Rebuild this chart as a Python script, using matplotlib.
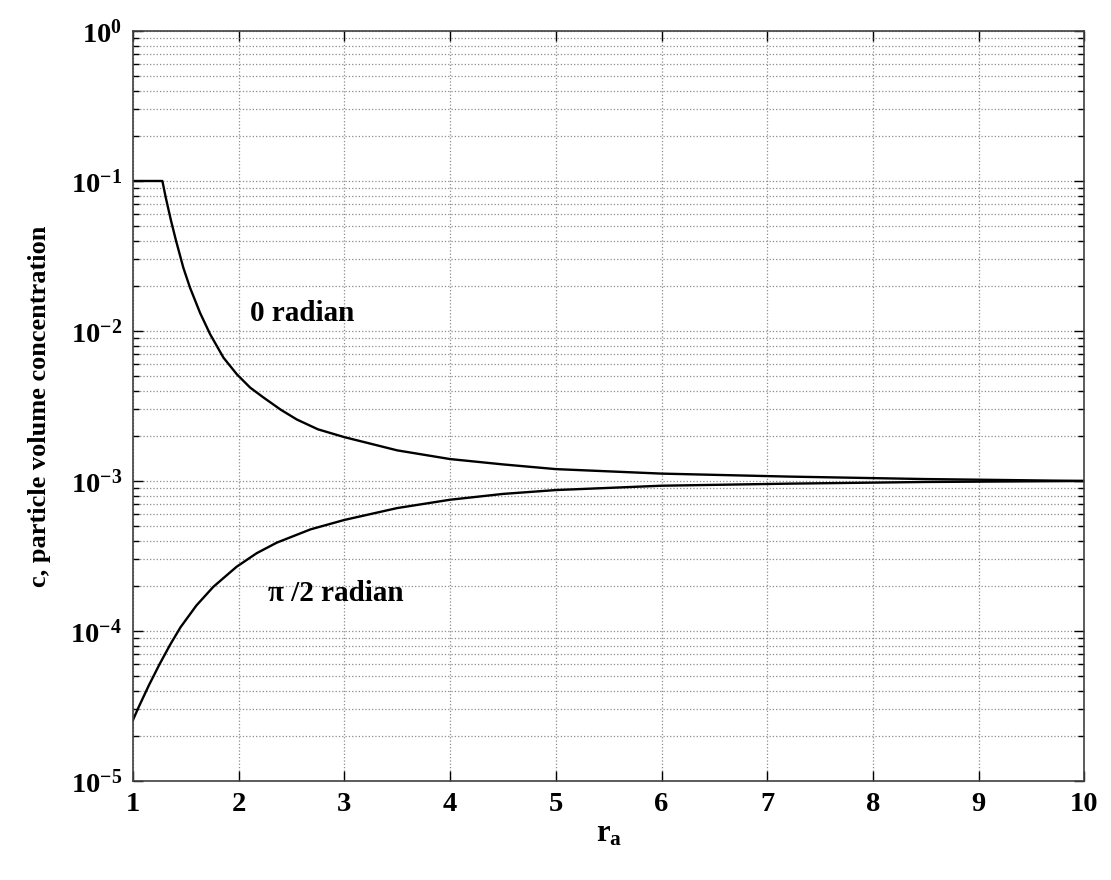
import math
import matplotlib
matplotlib.use("Agg")
import matplotlib.pyplot as plt
from matplotlib.ticker import FixedLocator, FuncFormatter, LogLocator, NullFormatter

plt.rcParams['font.family'] = ['Liberation Serif', 'DejaVu Serif']
plt.rcParams['font.weight'] = 'bold'
plt.rcParams['mathtext.fontset'] = 'custom'
plt.rcParams['mathtext.rm'] = 'Liberation Serif:bold'
plt.rcParams['mathtext.bf'] = 'Liberation Serif:bold'
plt.rcParams['mathtext.it'] = 'Liberation Serif:bold:italic'

# Data
x_zero = [1.0, 1.278, 1.31, 1.36, 1.408, 1.477, 1.54, 1.635, 1.73, 1.856, 1.983,
          2.109, 2.235, 2.4, 2.55, 2.75, 3.0, 3.5, 4.0, 4.5, 5.0, 6.0, 7.2, 8.5, 10.0]
c_zero = [0.1, 0.1, 0.0776, 0.0543, 0.0398, 0.0263, 0.0194, 0.01318, 0.00951,
          0.00664, 0.00514, 0.00419, 0.0036, 0.00298, 0.00257, 0.00221, 0.00196,
          0.0016, 0.0014, 0.00129, 0.0012, 0.00112, 0.00107, 0.00103, 0.001]

x_half_pi = [1.0, 1.05, 1.15, 1.25, 1.35, 1.45, 1.6, 1.76, 1.98, 2.17, 2.36, 2.68,
             3.0, 3.5, 4.0, 4.5, 5.0, 6.0, 7.2, 8.5, 10.0]
c_half_pi = [2.55e-5, 3.07e-5, 4.34e-5, 5.98e-5, 8.07e-5, 1.06e-4, 1.48e-4, 1.97e-4,
             2.68e-4, 3.3e-4, 3.88e-4, 4.76e-4, 5.5e-4, 6.6e-4, 7.5e-4, 8.2e-4,
             8.7e-4, 9.3e-4, 9.6e-4, 9.85e-4, 1e-3]

x_ticks = [1, 2, 3, 4, 5, 6, 7, 8, 9, 10]
y_exponents = [-5, -4, -3, -2, -1, 0]

fig = plt.figure(figsize=(11.11, 8.8), dpi=100)
ax = fig.add_axes([0.1197, 0.1125, 0.8563, 0.8523])

ax.plot(x_zero, c_zero, color='black', lw=1.7, solid_joinstyle='round')
ax.plot(x_half_pi, c_half_pi, color='black', lw=1.7, solid_joinstyle='round')

ax.set_yscale('log')
ax.set_xlim(1, 10)
ax.set_ylim(1e-5, 1)

ax.xaxis.set_major_locator(FixedLocator(x_ticks))
ax.yaxis.set_major_locator(FixedLocator([10.0 ** e for e in y_exponents]))
ax.yaxis.set_major_formatter(FuncFormatter(
    lambda v, p: r'$\mathbf{10^{%d}}$' % round(math.log10(v))))
ax.yaxis.set_minor_locator(LogLocator(base=10, subs=range(2, 10)))
ax.yaxis.set_minor_formatter(NullFormatter())

ax.grid(True, which='major', axis='both', linestyle=':', color='0.55', lw=0.9)
ax.grid(True, which='minor', axis='y', linestyle=':', color='0.55', lw=0.9)

ax.tick_params(which='both', direction='in', top=True, right=True)
ax.tick_params(which='major', length=7, width=1.0, labelsize=20.5, pad=8)
ax.tick_params(which='minor', length=4, width=1.0)
for lbl in ax.get_xticklabels():
    lbl.set_fontweight('bold')

for s in ax.spines.values():
    s.set_linewidth(1.2)
    s.set_color('0.25')

ax.text(2.11, 0.013, '0 radian', fontsize=21, fontweight='bold', va='center', ha='left')
ax.text(2.28, 1.77e-4, 'π /2 radian', fontsize=21, fontweight='bold', va='center', ha='left')

ax.set_xlabel(r'$\mathbf{r_a}$', fontsize=22, labelpad=2)
ax.set_ylabel('c, particle volume concentration', fontsize=19, fontweight='bold', labelpad=14)

fig.savefig('out.png', dpi=100)
